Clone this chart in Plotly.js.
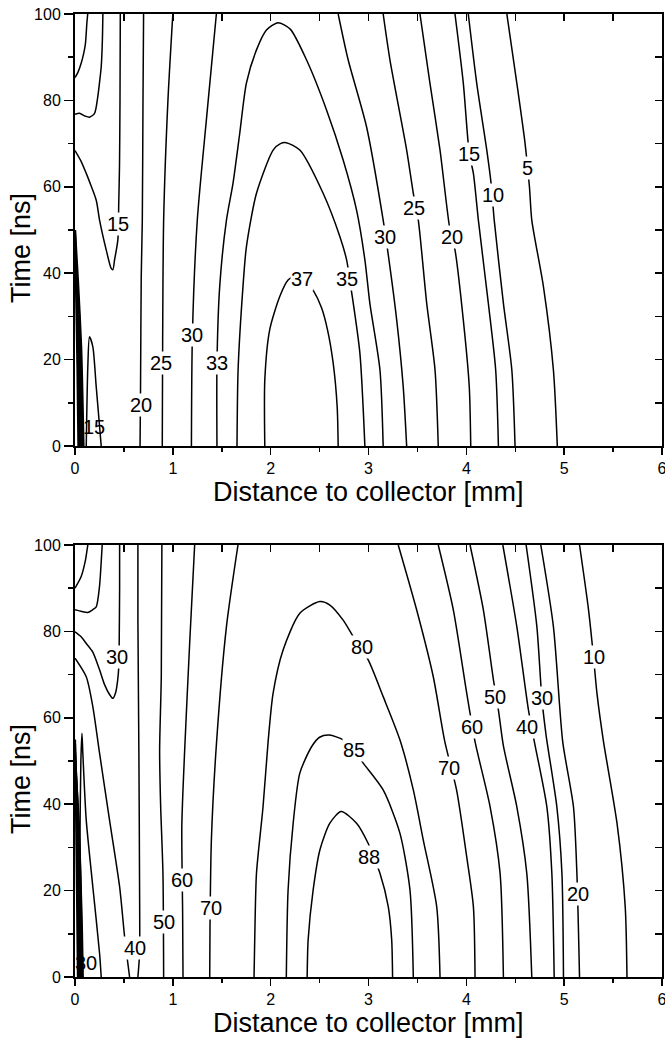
<!DOCTYPE html>
<html>
<head>
<meta charset="utf-8">
<script src="https://cdn.plot.ly/plotly-3.0.1.min.js"></script>
<style>html,body{margin:0;padding:0;background:#fff;}#chart{width:665px;height:1038px;}</style>
</head>
<body>
<div id="chart"></div>
<script>
// ---------------- TOP PANEL contour lines (x: distance mm, t: time ns) ----------------
const T_A_x = [0, 0.03, 0.063, 0.09, 0.107, 0.121, 0.13];
const T_A_t = [85.3, 86.5, 88.6, 91, 93.2, 97.8, 100];
const T_B_x = [0, 0.046, 0.1, 0.148, 0.2, 0.233, 0.255, 0.268, 0.28, 0.285];
const T_B_t = [76.8, 77.0, 76.4, 76.1, 77.0, 80.9, 85, 87.8, 94, 100];
const T_15U_x = [0, 0.06, 0.115, 0.148, 0.217, 0.251, 0.319, 0.37, 0.387, 0.404, 0.438, 0.447, 0.455, 0.46, 0.463];
const T_15U_t = [68.4, 66, 63.1, 61.2, 56.9, 52.3, 45.4, 41.1, 40.8, 43, 47.7, 56, 65, 80, 100];
const T_20L_x = [0.701, 0.695, 0.688, 0.677, 0.67, 0.665];
const T_20L_t = [100, 80, 52.3, 39.2, 13.7, 0];
const T_25L_x = [1.0, 0.95, 0.906, 0.896, 0.892];
const T_25L_t = [100, 80, 52.3, 25, 0];
const T_30L_x = [1.445, 1.345, 1.25, 1.2, 1.19];
const T_30L_t = [100, 76, 52.3, 25.7, 0];
const T_33_x = [1.451, 1.451, 1.479, 1.548, 1.615, 1.684, 1.752, 1.855, 1.957, 2.076, 2.2, 2.366, 2.571, 2.741, 2.878, 2.963, 3.014, 3.117, 3.15];
const T_33_t = [0, 19.1, 36.9, 52.3, 60.8, 72.4, 84, 91.7, 96.3, 98.0, 96.5, 89.4, 77.8, 66.2, 54.6, 43.1, 33, 17.6, 0];
const T_35_x = [1.656, 1.667, 1.717, 1.752, 1.855, 2.025, 2.1, 2.16, 2.298, 2.536, 2.707, 2.776, 2.827, 2.912, 2.963];
const T_35_t = [0, 17.6, 36.9, 46.1, 58.5, 68.5, 70.0, 70.2, 68.5, 58.5, 48.5, 43.1, 35.7, 21.5, 0];
const T_37_x = [1.94, 1.94, 1.99, 2.093, 2.178, 2.3, 2.434, 2.52, 2.58, 2.64, 2.68, 2.69];
const T_37_t = [0, 15.3, 26.9, 34.6, 38.4, 40, 36.1, 32, 27, 19, 9, 0];
const T_30R_x = [2.69, 2.792, 2.98, 3.15, 3.20, 3.288, 3.355, 3.39];
const T_30R_t = [100, 89.4, 73.9, 52.3, 44.6, 29.2, 13.7, 0];
const T_25R_x = [3.15, 3.219, 3.39, 3.458, 3.509, 3.595, 3.68, 3.713];
const T_25R_t = [100, 89.4, 68.5, 58.5, 52.3, 33, 17.6, 0];
const T_20R_x = [3.526, 3.628, 3.731, 3.833, 3.884, 3.969, 4.03, 4.045];
const T_20R_t = [100, 84, 68.5, 50, 45.4, 29.2, 13.7, 0];
const T_15R_x = [3.884, 3.969, 4.03, 4.072, 4.123, 4.225, 4.30, 4.328];
const T_15R_t = [100, 84, 67.7, 63.1, 52.3, 33, 17.6, 0];
const T_10R_x = [4.02, 4.106, 4.209, 4.253, 4.285, 4.379, 4.465, 4.498];
const T_10R_t = [100, 84, 68.5, 60.8, 52.3, 33, 17.6, 0];
const T_5R_x = [4.414, 4.516, 4.60, 4.645, 4.669, 4.788, 4.89, 4.93];
const T_5R_t = [100, 84, 70.1, 60, 52.3, 36.9, 17.6, 0];
// crowded lines near the collector
const T_C1_x = [0, 0.012, 0.025, 0.035];   const T_C1_t = [50, 35, 18, 0];
const T_C2_x = [0, 0.02, 0.04, 0.05];      const T_C2_t = [49, 36, 18, 0];
const T_C3_x = [0, 0.03, 0.05, 0.062];     const T_C3_t = [47.5, 34, 16, 0];
const T_C4_x = [0, 0.04, 0.062, 0.075];    const T_C4_t = [46, 31, 13, 0];
const T_C5_x = [0, 0.03, 0.063, 0.087];    const T_C5_t = [50, 38.4, 23, 0];
const T_SP_x = [0.115, 0.131, 0.148, 0.182, 0.217, 0.268];
const T_SP_t = [0, 18.4, 25.3, 23, 13.7, 0];

// top panel contour labels
const T_LAB_text = ['15', '20', '25', '30', '33', '37', '35', '30', '25', '20', '15', '10', '5', '15'];
const T_LAB_x = [0.435, 0.677, 0.882, 1.20, 1.451, 2.318, 2.779, 3.168, 3.46, 3.858, 4.03, 4.277, 4.628, 0.19];
const T_LAB_t = [51.5, 9.5, 19.1, 25.7, 19.1, 38.7, 38.7, 48.4, 55, 48.4, 67.7, 58.1, 64.3, 4.5];

// ---------------- BOTTOM PANEL contour lines ----------------
const B_A_x = [0, 0.063, 0.107, 0.121, 0.131];
const B_A_t = [90, 92.7, 96.5, 98.5, 100];
const B_B_x = [0, 0.07, 0.131, 0.18, 0.217, 0.25, 0.265, 0.278];
const B_B_t = [85, 84.6, 84.4, 85, 85.7, 90.3, 95, 100];
const B_30U_x = [0, 0.06, 0.115, 0.182, 0.251, 0.30, 0.353, 0.387, 0.415, 0.435, 0.448, 0.452, 0.456, 0.456];
const B_30U_t = [79.9, 78.8, 77.2, 75.2, 71.1, 67.8, 65.4, 64.5, 65.8, 68.5, 72, 78, 90, 100];
const B_40L_x = [0, 0.115, 0.182, 0.251, 0.353, 0.456, 0.507, 0.54, 0.558];
const B_40L_t = [73.8, 69.5, 62.6, 51.8, 36.3, 20.9, 9.3, 3.2, 0];
const B_40M_x = [0.643, 0.66, 0.66, 0.653, 0.643, 0.643];
const B_40M_t = [0, 5.5, 20.9, 51.8, 82.6, 100];
const B_50L_x = [0.888, 0.882, 0.865, 0.875, 0.899, 0.906];
const B_50L_t = [100, 69.5, 52.5, 40, 24, 0];
const B_60L_x = [1.223, 1.172, 1.121, 1.092, 1.1, 1.104];
const B_60L_t = [100, 77.2, 52.5, 35, 15, 0];
const B_70L_x = [1.666, 1.548, 1.445, 1.394, 1.38, 1.377];
const B_70L_t = [100, 81.1, 53.7, 31.7, 12, 0];
const B_80_x = [1.83, 1.837, 1.855, 1.922, 1.974, 2.025, 2.127, 2.298, 2.503, 2.605, 2.741, 2.843, 2.997, 3.15, 3.321, 3.458, 3.56, 3.697, 3.731];
const B_80_t = [0, 8.6, 24, 39.4, 54.5, 65.7, 75.7, 84.2, 86.9, 86.1, 82.6, 78.8, 73.4, 64.9, 54.9, 43.3, 31.7, 16.3, 0];
const B_85_x = [2.16, 2.178, 2.23, 2.298, 2.418, 2.5, 2.6, 2.741, 2.85, 2.946, 3.15, 3.321, 3.424, 3.458];
const B_85_t = [0, 20.1, 35.6, 47.2, 53.3, 55.5, 56, 54.9, 52.5, 49.5, 43.3, 33.3, 20.1, 0];
const B_88_x = [2.373, 2.383, 2.434, 2.503, 2.605, 2.72, 2.878, 2.997, 3.117, 3.202, 3.237, 3.246];
const B_88_t = [0, 8.6, 20.1, 29.4, 35.6, 38.3, 35.6, 30.9, 24, 16.3, 8.6, 0];
const B_70R_x = [3.304, 3.492, 3.662, 3.78, 3.90, 4.004, 4.072, 4.089];
const B_70R_t = [100, 85, 69.5, 54.5, 43.3, 27.8, 16.3, 0];
const B_60R_x = [3.713, 3.867, 4.004, 4.089, 4.243, 4.345, 4.379];
const B_60R_t = [100, 85, 65.7, 54.5, 39.4, 24, 0];
const B_50R_x = [4.038, 4.174, 4.277, 4.328, 4.379, 4.516, 4.618, 4.669];
const B_50R_t = [100, 85, 68.8, 61.8, 53.5, 39.4, 24, 0];
const B_40R_x = [4.373, 4.516, 4.635, 4.695, 4.823, 4.874, 4.898];
const B_40R_t = [100, 81.1, 61.8, 54.5, 39.4, 24, 0];
const B_30R_x = [4.611, 4.721, 4.772, 4.815, 4.925, 4.977, 4.993];
const B_30R_t = [100, 81.1, 64.5, 56, 39.4, 24, 0];
const B_20R_x = [4.761, 4.89, 4.985, 5.095, 5.13, 5.157];
const B_20R_t = [100, 81.1, 54.5, 39.4, 24, 0];
const B_10R_x = [5.157, 5.249, 5.30, 5.335, 5.402, 5.54, 5.624, 5.642];
const B_10R_t = [100, 85, 74.1, 65.7, 54.5, 35.6, 16.3, 0];
const B_C1_x = [0, 0.01, 0.02, 0.03];    const B_C1_t = [55, 40, 20, 0];
const B_C2_x = [0, 0.02, 0.035, 0.045];  const B_C2_t = [54, 40, 20, 0];
const B_C3_x = [0, 0.03, 0.05, 0.06];    const B_C3_t = [52, 38, 20, 0];
const B_C4_x = [0, 0.04, 0.06, 0.07];    const B_C4_t = [50, 35, 18, 0];
const B_C5_x = [0, 0.045, 0.07, 0.08];   const B_C5_t = [48, 30, 12, 0];
const B_SP_x = [0.05, 0.05, 0.06, 0.071, 0.08, 0.115, 0.182, 0.251, 0.268];
const B_SP_t = [0, 30, 50, 56.4, 51.8, 36.3, 20.9, 5.5, 0];

const B_LAB_text = ['30', '40', '50', '60', '70', '80', '85', '88', '70', '60', '50', '40', '30', '20', '10', '30'];
const B_LAB_x = [0.43, 0.609, 0.906, 1.097, 1.394, 2.93, 2.85, 3.007, 3.826, 4.055, 4.294, 4.618, 4.772, 5.146, 5.30, 0.115];
const B_LAB_t = [74.1, 6.6, 12.8, 22.5, 15.9, 76.5, 52.5, 27.8, 48.3, 57.9, 64.9, 57.9, 64.5, 19.2, 74.1, 3.2];

// axis tick labels
const X_TICKS = [0, 1, 2, 3, 4, 5, 6];
const Y_TICKS = [0, 20, 40, 60, 80, 100];

const FAM = 'Liberation Sans, Arial, Helvetica, sans-serif';

const topLines = [
  [T_A_x, T_A_t], [T_B_x, T_B_t], [T_15U_x, T_15U_t], [T_20L_x, T_20L_t], [T_25L_x, T_25L_t],
  [T_30L_x, T_30L_t], [T_33_x, T_33_t], [T_35_x, T_35_t], [T_37_x, T_37_t], [T_30R_x, T_30R_t],
  [T_25R_x, T_25R_t], [T_20R_x, T_20R_t], [T_15R_x, T_15R_t], [T_10R_x, T_10R_t], [T_5R_x, T_5R_t],
  [T_SP_x, T_SP_t]
];
const topCluster = [[T_C1_x, T_C1_t], [T_C2_x, T_C2_t], [T_C3_x, T_C3_t], [T_C4_x, T_C4_t], [T_C5_x, T_C5_t]];
const botLines = [
  [B_A_x, B_A_t], [B_B_x, B_B_t], [B_30U_x, B_30U_t], [B_40L_x, B_40L_t], [B_40M_x, B_40M_t],
  [B_50L_x, B_50L_t], [B_60L_x, B_60L_t], [B_70L_x, B_70L_t], [B_80_x, B_80_t], [B_85_x, B_85_t],
  [B_88_x, B_88_t], [B_70R_x, B_70R_t], [B_60R_x, B_60R_t], [B_50R_x, B_50R_t], [B_40R_x, B_40R_t],
  [B_30R_x, B_30R_t], [B_20R_x, B_20R_t], [B_10R_x, B_10R_t], [B_SP_x, B_SP_t]
];
const botCluster = [[B_C1_x, B_C1_t], [B_C2_x, B_C2_t], [B_C3_x, B_C3_t], [B_C4_x, B_C4_t], [B_C5_x, B_C5_t]];

const traces = [];
function addLines(list, xa, ya, w) {
  list.forEach(function (p) {
    traces.push({
      type: 'scatter', mode: 'lines', x: p[0], y: p[1], xaxis: xa, yaxis: ya,
      line: { color: 'black', width: w, shape: 'spline', smoothing: 0.7 },
      hoverinfo: 'skip', showlegend: false
    });
  });
}
addLines(topLines, 'x', 'y', 1.5);
addLines(topCluster, 'x', 'y', 2.2);
addLines(botLines, 'x2', 'y2', 1.5);
addLines(botCluster, 'x2', 'y2', 2.2);
// placeholders so the mirrored (inward-tick) axes are drawn
[['x3', 'y'], ['x', 'y3'], ['x4', 'y2'], ['x2', 'y4']].forEach(function (a) {
  traces.push({ type: 'scatter', mode: 'lines', x: [null], y: [null], xaxis: a[0], yaxis: a[1], showlegend: false, hoverinfo: 'skip' });
});

function xAxis(anchor) {
  return {
    anchor: anchor, domain: [0, 1], range: [0, 6], showline: true, linewidth: 2, linecolor: 'black',
    ticks: 'outside', ticklen: 7, tickwidth: 1.5, tickcolor: 'black',
    tickmode: 'array', tickvals: X_TICKS, ticktext: X_TICKS.map(String), ticklabeloverflow: 'allow',
    minor: { tickmode: 'linear', tick0: 0, dtick: 0.5, ticks: 'outside', ticklen: 4, tickwidth: 1.5, tickcolor: 'black', showgrid: false },
    showgrid: false, zeroline: false, tickfont: { family: FAM, size: 16, color: 'black' }, fixedrange: true
  };
}
function yAxis(anchor, dom) {
  return {
    anchor: anchor, domain: dom, range: [0, 100], showline: true, linewidth: 2, linecolor: 'black',
    ticks: 'outside', ticklen: 9, tickwidth: 1.5, tickcolor: 'black',
    tickmode: 'array', tickvals: Y_TICKS, ticktext: Y_TICKS.map(String), ticklabeloverflow: 'allow',
    minor: { tickmode: 'linear', tick0: 0, dtick: 10, ticks: 'outside', ticklen: 5, tickwidth: 1.5, tickcolor: 'black', showgrid: false },
    showgrid: false, zeroline: false, tickfont: { family: FAM, size: 16, color: 'black' }, fixedrange: true
  };
}
function xMirror(over, anchor) {
  return {
    overlaying: over, anchor: anchor, side: 'top', range: [0, 6], showline: true, linewidth: 2, linecolor: 'black',
    ticks: 'inside', ticklen: 7, tickwidth: 1.5, tickcolor: 'black', tickmode: 'linear', tick0: 0, dtick: 0.5,
    showticklabels: false, showgrid: false, zeroline: false, fixedrange: true
  };
}
function yMirror(over, anchor) {
  return {
    overlaying: over, anchor: anchor, side: 'right', range: [0, 100], showline: true, linewidth: 2, linecolor: 'black',
    ticks: 'inside', ticklen: 7, tickwidth: 1.5, tickcolor: 'black', tickmode: 'linear', tick0: 0, dtick: 10,
    showticklabels: false, showgrid: false, zeroline: false, fixedrange: true
  };
}

const H = 1038, MT = 14, MB = 61;
const plotH = H - MT - MB;
const panelH = 432;
const topDom = [1 - panelH / plotH, 1];
const botDom = [0, panelH / plotH];

const annotations = [];
function addLabels(texts, xs, ts, xr, yr) {
  texts.forEach(function (tx, i) {
    const occluded = xs[i] < 0.3 && ts[i] < 6;
    annotations.push({
      x: xs[i], y: ts[i], xref: xr, yref: yr, text: tx, showarrow: false,
      font: { family: FAM, size: 20, color: 'black' },
      bgcolor: occluded ? 'rgba(0,0,0,0)' : 'white', borderpad: 0,
      xanchor: 'center', yanchor: 'middle'
    });
  });
}
addLabels(T_LAB_text, T_LAB_x, T_LAB_t, 'x', 'y');
addLabels(B_LAB_text, B_LAB_x, B_LAB_t, 'x2', 'y2');

// axis titles
[[topDom], [botDom]].forEach(function (d) {
  const dom = d[0];
  annotations.push({
    xref: 'paper', yref: 'paper', x: 0.5, y: dom[0], yshift: -46, xanchor: 'center', yanchor: 'middle',
    text: 'Distance to collector [mm]', showarrow: false, font: { family: FAM, size: 27, color: 'black' }
  });
  annotations.push({
    xref: 'paper', yref: 'paper', x: 0, xshift: -54, y: (dom[0] + dom[1]) / 2, yshift: -18,
    xanchor: 'center', yanchor: 'middle', textangle: -90,
    text: 'Time [ns]', showarrow: false, font: { family: FAM, size: 27, color: 'black' }
  });
});

const layout = {
  width: 665, height: H,
  margin: { l: 75, r: 3, t: MT, b: MB, pad: 0 },
  paper_bgcolor: 'white', plot_bgcolor: 'white',
  showlegend: false,
  xaxis: xAxis('y'), yaxis: yAxis('x', topDom),
  xaxis2: xAxis('y2'), yaxis2: yAxis('x2', botDom),
  xaxis3: xMirror('x', 'y'), yaxis3: yMirror('y', 'x'),
  xaxis4: xMirror('x2', 'y2'), yaxis4: yMirror('y2', 'x2'),
  annotations: annotations
};

Plotly.newPlot('chart', traces, layout, { staticPlot: true, displayModeBar: false });
</script>
</body>
</html>
